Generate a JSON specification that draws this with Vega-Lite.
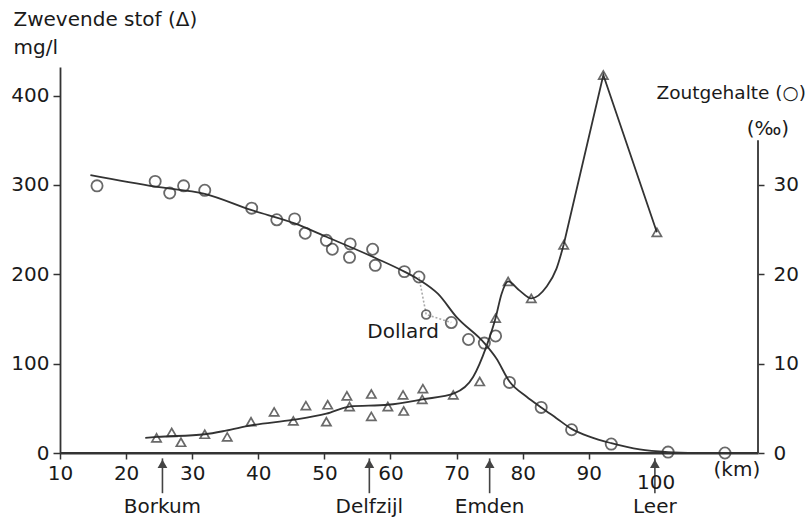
{
  "$schema": "https://vega.github.io/schema/vega-lite/v6.json",
  "width": 698,
  "height": 386,
  "autosize": {"type": "none"},
  "padding": {"left": 60, "top": 67, "right": 51, "bottom": 66},
  "background": "white",
  "config": {
    "view": {"stroke": null},
    "font": "DejaVu Sans",
    "axis": {
      "grid": false,
      "labelFlush": false,
      "labelFontSize": 20,
      "labelColor": "#1a1a1a",
      "labelFont": "DejaVu Sans",
      "tickColor": "#333",
      "tickWidth": 1.5,
      "domainColor": "#333",
      "domainWidth": 1.8,
      "titleFont": "DejaVu Sans",
      "titleFontSize": 20,
      "titleFontWeight": "normal",
      "titleColor": "#1a1a1a"
    },
    "text": {"font": "DejaVu Sans", "fontSize": 20, "color": "#1a1a1a"}
  },
  "datasets": {
    "stof": [
      {"km": 24.6, "mgl": 17}, {"km": 26.9, "mgl": 23}, {"km": 28.3, "mgl": 12},
      {"km": 31.9, "mgl": 21}, {"km": 35.3, "mgl": 18}, {"km": 38.9, "mgl": 35},
      {"km": 42.4, "mgl": 46}, {"km": 45.3, "mgl": 36}, {"km": 47.2, "mgl": 53},
      {"km": 50.5, "mgl": 54}, {"km": 50.3, "mgl": 35}, {"km": 53.4, "mgl": 64},
      {"km": 53.8, "mgl": 52}, {"km": 57.1, "mgl": 66}, {"km": 57.1, "mgl": 41},
      {"km": 59.6, "mgl": 52}, {"km": 61.9, "mgl": 65}, {"km": 62.0, "mgl": 47},
      {"km": 64.9, "mgl": 72}, {"km": 64.8, "mgl": 60}, {"km": 69.5, "mgl": 65},
      {"km": 73.5, "mgl": 80}, {"km": 75.9, "mgl": 151}, {"km": 77.8, "mgl": 192},
      {"km": 81.3, "mgl": 173}, {"km": 86.2, "mgl": 233}, {"km": 92.2, "mgl": 423},
      {"km": 100.3, "mgl": 247}
    ],
    "stofCurve": [
      {"km": 22.9, "mgl": 17}, {"km": 24.7, "mgl": 18}, {"km": 31.9, "mgl": 21},
      {"km": 35.1, "mgl": 25}, {"km": 38.9, "mgl": 31}, {"km": 45.2, "mgl": 37},
      {"km": 50.3, "mgl": 44}, {"km": 53.8, "mgl": 52}, {"km": 59.6, "mgl": 54},
      {"km": 64.8, "mgl": 60}, {"km": 69.7, "mgl": 67}, {"km": 72.5, "mgl": 85},
      {"km": 74.5, "mgl": 119}, {"km": 75.9, "mgl": 151}, {"km": 76.8, "mgl": 178},
      {"km": 77.8, "mgl": 192}, {"km": 79.5, "mgl": 182}, {"km": 81.3, "mgl": 173},
      {"km": 83.6, "mgl": 186}, {"km": 85.1, "mgl": 206}, {"km": 86.2, "mgl": 233}
    ],
    "stofPeak": [
      {"km": 86.2, "mgl": 233}, {"km": 92.2, "mgl": 423}, {"km": 100.3, "mgl": 247}
    ],
    "arrows": [
      {"place": "Borkum", "km": 25.5, "tip": -6, "tail": -45, "head": -12, "name": -60},
      {"place": "Delfzijl", "km": 56.8, "tip": -6, "tail": -45, "head": -12, "name": -60},
      {"place": "Emden", "km": 75.0, "tip": -6, "tail": -45, "head": -12, "name": -60},
      {"place": "Leer", "km": 100.0, "tip": -6, "tail": -45, "head": -12, "name": -60}
    ],
    "notes": [
      {"label": "100", "km": 100.2, "mgl": -33.5},
      {"label": "(km)", "km": 112.4, "mgl": -19},
      {"label": "Dollard", "km": 61.9, "mgl": 135}
    ],
    "baseline": [
      {"km": 10, "km2": 115.6, "mgl": 0}
    ],
    "zout": [
      {"km": 15.6, "sal": 29.9, "station": "Eems"}, {"km": 24.4, "sal": 30.4, "station": "Eems"},
      {"km": 26.6, "sal": 29.1, "station": "Eems"}, {"km": 28.7, "sal": 29.9, "station": "Eems"},
      {"km": 31.9, "sal": 29.4, "station": "Eems"}, {"km": 39.0, "sal": 27.4, "station": "Eems"},
      {"km": 42.8, "sal": 26.1, "station": "Eems"}, {"km": 45.5, "sal": 26.2, "station": "Eems"},
      {"km": 47.1, "sal": 24.6, "station": "Eems"}, {"km": 50.3, "sal": 23.8, "station": "Eems"},
      {"km": 51.2, "sal": 22.8, "station": "Eems"}, {"km": 53.9, "sal": 23.4, "station": "Eems"},
      {"km": 53.8, "sal": 21.9, "station": "Eems"}, {"km": 57.3, "sal": 22.8, "station": "Eems"},
      {"km": 57.7, "sal": 21.0, "station": "Eems"}, {"km": 62.1, "sal": 20.3, "station": "Eems"},
      {"km": 64.3, "sal": 19.7, "station": "Eems"}, {"km": 65.4, "sal": 15.5, "station": "Dollard"},
      {"km": 69.2, "sal": 14.6, "station": "Eems"}, {"km": 71.8, "sal": 12.7, "station": "Eems"},
      {"km": 74.2, "sal": 12.3, "station": "Eems"}, {"km": 75.9, "sal": 13.1, "station": "Eems"},
      {"km": 78.0, "sal": 7.9, "station": "Eems"}, {"km": 82.8, "sal": 5.1, "station": "Eems"},
      {"km": 87.4, "sal": 2.6, "station": "Eems"}, {"km": 93.4, "sal": 1.0, "station": "Eems"},
      {"km": 102.0, "sal": 0.1, "station": "Eems"}, {"km": 110.6, "sal": 0.0, "station": "Eems"}
    ],
    "zoutCurve": [
      {"km": 14.6, "sal": 31.1}, {"km": 24.5, "sal": 29.8}, {"km": 31.9, "sal": 29.0},
      {"km": 38.9, "sal": 27.2}, {"km": 45.5, "sal": 25.7}, {"km": 50.3, "sal": 24.2},
      {"km": 57.8, "sal": 21.8}, {"km": 62.1, "sal": 20.3}, {"km": 64.3, "sal": 19.4},
      {"km": 67.2, "sal": 17.8}, {"km": 70.0, "sal": 15.2}, {"km": 74.2, "sal": 12.3},
      {"km": 76.0, "sal": 10.6}, {"km": 78.0, "sal": 8.0}, {"km": 80.6, "sal": 6.3},
      {"km": 82.8, "sal": 5.1}, {"km": 85.1, "sal": 3.9}, {"km": 87.4, "sal": 2.7},
      {"km": 90.2, "sal": 1.8}, {"km": 93.4, "sal": 1.1}, {"km": 97.7, "sal": 0.4},
      {"km": 102.0, "sal": 0.1}, {"km": 106.4, "sal": 0.0}
    ],
    "dollard": [
      {"km": 64.3, "sal": 19.7}, {"km": 65.4, "sal": 15.5}, {"km": 69.2, "sal": 14.6}
    ],
    "zoutAxis": [
      {"km": 115.6, "lo": 0, "hi": 35, "unit": "(‰)", "unitKm": 117.1, "unitSal": 36.3}
    ]
  },
  "encoding": {
    "x": {
      "field": "km",
      "type": "quantitative",
      "scale": {"domain": [10, 115.6], "nice": false, "zero": false},
      "axis": {
        "values": [10, 20, 30, 40, 50, 60, 70, 80, 90],
        "domain": true,
        "tickSize": 6,
        "labelPadding": 4,
        "title": null
      }
    }
  },
  "layer": [
    {
      "encoding": {
        "y": {
          "field": "mgl",
          "type": "quantitative",
          "scale": {"domain": [0, 432], "nice": false},
          "axis": {
            "values": [0, 100, 200, 300, 400],
            "tickSize": 7,
            "labelPadding": 4,
            "title": ["Zwevende stof (Δ)", "mg/l"],
            "titleAngle": 0,
            "titleAlign": "left",
            "titleBaseline": "alphabetic",
            "titleX": -47,
            "titleY": -42,
            "titleLineHeight": 28
          }
        }
      },
      "layer": [
        {
          "data": {"name": "baseline"},
          "mark": {"type": "rule", "color": "#333", "strokeWidth": 1.8},
          "encoding": {"x2": {"field": "km2"}}
        },
        {
          "data": {"name": "stofCurve"},
          "mark": {"type": "line", "interpolate": "monotone", "color": "#333", "strokeWidth": 1.8}
        },
        {
          "data": {"name": "stofPeak"},
          "mark": {"type": "line", "color": "#333", "strokeWidth": 1.8}
        },
        {
          "data": {"name": "stof"},
          "mark": {"type": "point", "shape": "triangle-up", "filled": false, "size": 85, "color": "#2a2a2a", "strokeWidth": 1.7}
        },
        {
          "data": {"name": "arrows"},
          "mark": {"type": "rule", "color": "#444", "strokeWidth": 1.6},
          "encoding": {"y": {"field": "tip", "type": "quantitative"}, "y2": {"field": "tail"}}
        },
        {
          "data": {"name": "arrows"},
          "mark": {"type": "point", "shape": "triangle-up", "filled": true, "size": 95, "color": "#444", "opacity": 1},
          "encoding": {"y": {"field": "head", "type": "quantitative"}}
        },
        {
          "data": {"name": "arrows"},
          "mark": {"type": "text", "baseline": "middle", "align": "center"},
          "encoding": {"y": {"field": "name", "type": "quantitative"}, "text": {"field": "place"}}
        },
        {
          "data": {"name": "notes"},
          "mark": {"type": "text", "baseline": "middle", "align": "center"},
          "encoding": {"text": {"field": "label"}}
        }
      ]
    },
    {
      "encoding": {
        "y": {
          "field": "sal",
          "type": "quantitative",
          "scale": {"domain": [0, 43.2], "nice": false},
          "axis": {
            "orient": "right",
            "values": [0, 10, 20, 30],
            "domain": false,
            "tickSize": 6,
            "labelPadding": 9,
            "title": "Zoutgehalte (○)",
            "titleFontSize": 18.5,
            "titleAngle": 0,
            "titleAlign": "left",
            "titleBaseline": "alphabetic",
            "titleX": -102,
            "titleY": 31
          }
        }
      },
      "layer": [
        {
          "data": {"name": "zoutCurve"},
          "mark": {"type": "line", "interpolate": "monotone", "color": "#333", "strokeWidth": 1.8}
        },
        {
          "data": {"name": "dollard"},
          "mark": {"type": "line", "color": "#aaa", "strokeWidth": 1.6, "strokeDash": [2, 2]}
        },
        {
          "data": {"name": "zout"},
          "mark": {"type": "point", "shape": "circle", "filled": false, "color": "#2a2a2a", "strokeWidth": 1.8},
          "encoding": {
            "size": {"condition": {"test": "datum.station === 'Dollard'", "value": 75}, "value": 125}
          }
        },
        {
          "data": {"name": "zoutAxis"},
          "mark": {"type": "rule", "color": "#333", "strokeWidth": 1.8},
          "encoding": {"y": {"field": "lo", "type": "quantitative"}, "y2": {"field": "hi"}}
        },
        {
          "data": {"name": "zoutAxis"},
          "mark": {"type": "text", "baseline": "middle", "align": "center"},
          "encoding": {
            "x": {"field": "unitKm", "type": "quantitative"},
            "y": {"field": "unitSal", "type": "quantitative"},
            "text": {"field": "unit"}
          }
        }
      ]
    }
  ],
  "resolve": {"scale": {"y": "independent"}}
}
